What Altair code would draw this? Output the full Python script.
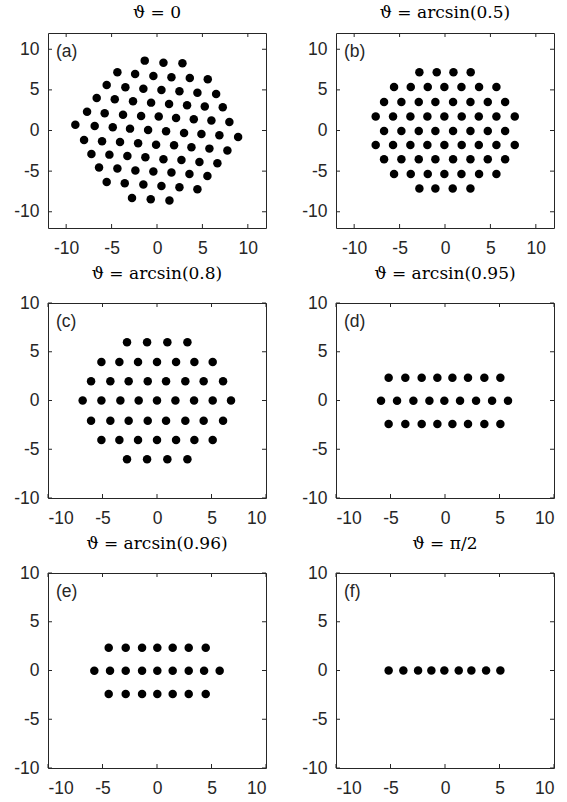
import altair as alt
import pandas as pd

# ---------------- data ----------------
ax = [-1.35, 0.71, 2.80,
      -4.36, -2.41, -0.40, 1.59, 3.61, 5.59,
      -5.54, -3.48, -1.50, 0.49, 2.47, 4.45, 6.51,
      -6.64, -4.65, -2.64, -0.65, 1.33, 3.31, 5.26, 7.24,
      -7.70, -5.76, -3.74, -1.75, 0.19, 2.10, 4.05, 5.99, 7.97,
      -8.99, -6.86, -4.87, -2.97, -0.98, 1.00, 2.98, 4.89, 6.87, 8.93,
      -8.03, -6.05, -4.07, -2.08, -0.10, 1.88, 3.79, 5.77, 7.75,
      -7.22, -5.24, -3.26, -1.28, 0.71, 2.69, 4.67, 6.65,
      -6.38, -4.36, -2.38, -0.40, 1.59, 3.57, 5.55,
      -5.54, -3.55, -1.50, 0.49, 2.47, 4.45,
      -2.75, -0.69, 1.37]
ay = [8.60, 8.35, 8.27,
      7.16, 6.96, 6.71, 6.55, 6.46, 6.30,
      5.60, 5.32, 5.15, 4.99, 4.83, 4.66, 4.50,
      4.01, 3.84, 3.60, 3.43, 3.27, 3.10, 2.94, 2.86,
      2.32, 2.12, 1.95, 1.79, 1.71, 1.55, 1.38, 1.22, 1.05,
      0.72, 0.56, 0.40, 0.23, 0.07, -0.10, -0.30, -0.42, -0.59, -0.79,
      -1.16, -1.33, -1.41, -1.57, -1.74, -1.82, -2.06, -2.23, -2.47,
      -2.88, -2.97, -3.13, -3.29, -3.54, -3.62, -3.87, -4.03,
      -4.56, -4.69, -4.93, -5.06, -5.18, -5.34, -5.59,
      -6.33, -6.49, -6.66, -6.82, -6.98, -7.23,
      -8.30, -8.46, -8.62]

bx = [-2.82, -0.91, 0.93, 2.83,
      -5.61, -3.77, -1.90, -0.07, 1.81, 3.75, 5.66,
      -6.71, -4.80, -2.89, -1.06, 0.89, 2.80, 4.71, 6.62,
      -7.63, -5.72, -3.81, -1.94, -0.07, 1.84, 3.72, 5.66, 7.68,
      -6.71, -4.80, -2.89, -1.06, 0.89, 2.80, 4.71, 6.62,
      -7.63, -5.72, -3.81, -1.94, -0.07, 1.84, 3.72, 5.66, 7.68,
      -6.71, -4.80, -2.89, -1.06, 0.89, 2.80, 4.71, 6.62,
      -5.61, -3.77, -1.90, -0.07, 1.81, 3.75, 5.66,
      -2.82, -1.06, 0.85, 2.80]
by = [7.16] * 4 + [5.36] * 7 + [3.51] * 8 + [1.71] * 9 + [-0.05] * 8 + \
     [-1.78] * 9 + [-3.54] * 8 + [-5.34] * 7 + [-7.15] * 4

cx = [-2.75, -0.91, 0.95, 2.79,
      -5.10, -3.45, -1.74, 0.00, 1.75, 3.43, 5.11,
      -6.05, -4.28, -2.60, -0.85, 0.83, 2.60, 4.28, 6.06,
      -6.82, -5.10, -3.36, -1.68, 0.00, 1.69, 3.40, 5.11, 6.79,
      -6.05, -4.28, -2.60, -0.85, 0.83, 2.60, 4.28, 6.06,
      -5.10, -3.45, -1.74, 0.00, 1.75, 3.43, 5.11,
      -2.75, -0.91, 0.95, 2.79]
cy = [5.97] * 4 + [3.95] * 7 + [1.97] * 8 + [0.0] * 9 + [-2.07] * 8 + \
     [-4.05] * 7 + [-6.03] * 4

dx = [-5.17, -3.64, -2.14, -0.70, 0.68, 2.11, 3.61, 5.08,
      -5.87, -4.40, -2.90, -1.43, -0.06, 1.38, 2.85, 4.32, 5.78,
      -5.17, -3.64, -2.14, -0.70, 0.68, 2.11, 3.61, 5.08]
dy = [2.34] * 8 + [-0.02] * 9 + [-2.41] * 8

ex = [-4.43, -2.87, -1.37, 0.03, 1.44, 2.91, 4.47,
      -5.75, -4.31, -2.87, -1.37, 0.03, 1.44, 2.91, 4.32, 5.75,
      -4.43, -2.87, -1.37, 0.03, 1.44, 2.91, 4.47]
ey = [2.34] * 7 + [-0.02] * 9 + [-2.41] * 7

fx = [-5.17, -3.82, -2.47, -1.25, -0.06, 1.26, 2.42, 3.77, 5.08]
fy = [0.0] * 9

titles = ["ϑ = 0", "ϑ = arcsin(0.5)", "ϑ = arcsin(0.8)",
          "ϑ = arcsin(0.95)", "ϑ = arcsin(0.96)", "ϑ = π/2"]
panel_labels = ["(a)", "(b)", "(c)", "(d)", "(e)", "(f)"]
limits = [12, 12, 10, 10, 10, 10]
tick_values = [-10, -5, 0, 5, 10]

# ---------------- styling ----------------
W, H = 218, 195
AXC = "#262626"
SANS = "Liberation Sans"
SERIF = "DejaVu Serif"
FS = 17.5


def panel(xs, ys, title, label, lim):
    df = pd.DataFrame({"x": xs, "y": ys})
    tk = pd.DataFrame({"t": tick_values})
    sx = alt.Scale(domain=[-lim, lim], nice=False, zero=False)
    sy = alt.Scale(domain=[-lim, lim], nice=False, zero=False)
    axis_common = dict(values=tick_values, title=None, ticks=False, domain=False,
                       grid=False, labelFont=SANS, labelFontSize=FS, labelColor=AXC,
                       labelExpr="'' + datum.value")
    x_axis = alt.Axis(labelPadding=11, **axis_common)
    y_axis = alt.Axis(labelPadding=9, **axis_common)
    pts = alt.Chart(df).mark_circle(size=72, color="black", opacity=1).encode(
        x=alt.X("x:Q", scale=sx, axis=x_axis),
        y=alt.Y("y:Q", scale=sy, axis=y_axis),
    )
    base = alt.Chart(tk).mark_rule(color=AXC, strokeWidth=1)
    xb = base.encode(x=alt.X("t:Q", scale=sx, axis=x_axis), y=alt.value(H), y2=alt.value(H - 4))
    xt = base.encode(x=alt.X("t:Q", scale=sx, axis=x_axis), y=alt.value(0), y2=alt.value(4))
    yl = base.encode(y=alt.Y("t:Q", scale=sy, axis=y_axis), x=alt.value(0), x2=alt.value(4))
    yr = base.encode(y=alt.Y("t:Q", scale=sy, axis=y_axis), x=alt.value(W - 4), x2=alt.value(W))
    lab = alt.Chart(pd.DataFrame({"s": [label]})).mark_text(
        align="left", baseline="middle", font=SANS, fontSize=FS, color=AXC
    ).encode(x=alt.value(8), y=alt.value(19), text="s:N")
    return alt.layer(pts, xb, xt, yl, yr, lab).properties(
        width=W, height=H,
        title=alt.TitleParams(title, font=SERIF, fontSize=17, fontWeight="normal",
                              color="black", offset=11),
    )


data = [(ax, ay), (bx, by), (cx, cy), (dx, dy), (ex, ey), (fx, fy)]
panels = [panel(d[0], d[1], titles[i], panel_labels[i], limits[i]) for i, d in enumerate(data)]

chart = alt.concat(*panels, columns=2, spacing={"row": 75, "column": 70},
                   bounds="flush").configure_view(
    stroke=AXC, strokeWidth=1
).properties(
    padding={"left": 13, "top": 3, "right": 5, "bottom": 5},
    background="white",
)

chart.save("out.html", embed_options={"renderer": "svg", "actions": False})
